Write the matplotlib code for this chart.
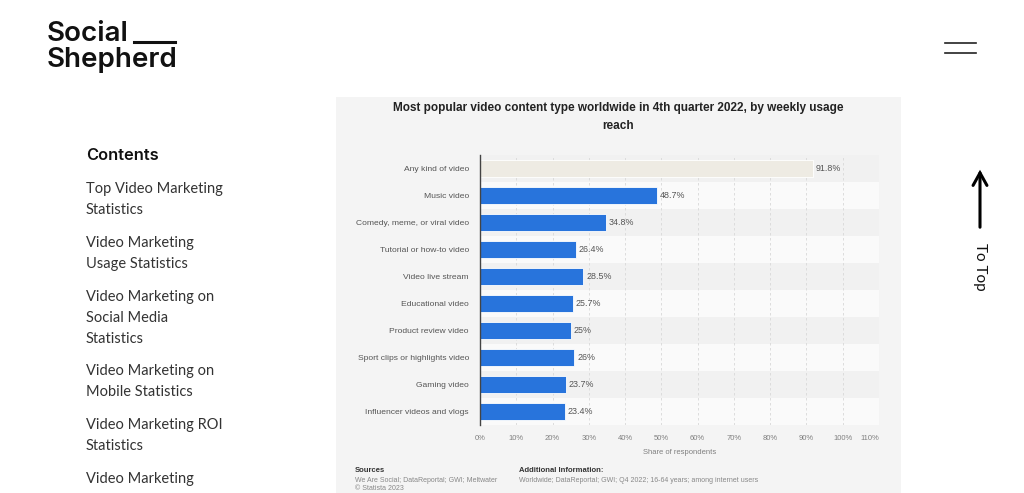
import matplotlib
matplotlib.use('Agg')
import matplotlib.pyplot as plt
from matplotlib.patches import Rectangle, FancyArrowPatch
from matplotlib.lines import Line2D

# data
categories = ['Any kind of video', 'Music video', 'Comedy, meme, or viral video',
              'Tutorial or how-to video', 'Video live stream', 'Educational video',
              'Product review video', 'Sport clips or highlights video',
              'Gaming video', 'Influencer videos and vlogs']
values = [91.8, 48.7, 34.8, 26.4, 28.5, 25.7, 25, 26, 23.7, 23.4]
value_labels = ['91.8%', '48.7%', '34.8%', '26.4%', '28.5%', '25.7%', '25%', '26%', '23.7%', '23.4%']
xticks = [0, 10, 20, 30, 40, 50, 60, 70, 80, 90, 100, 110]
xtick_labels = [f'{t}%' for t in xticks]
contents = ['Top Video Marketing', 'Statistics', 'Video Marketing', 'Usage Statistics',
            'Video Marketing on', 'Social Media', 'Statistics', 'Video Marketing on',
            'Mobile Statistics', 'Video Marketing ROI', 'Statistics', 'Video Marketing']
contents_y = [189, 210, 243, 264, 297, 318, 339, 371, 392, 425, 446, 479]

W, H = 1024, 493
def px(x, y):
    return x / W, 1 - y / H

fig = plt.figure(figsize=(W / 100, H / 100), dpi=100)
fig.patch.set_facecolor('white')

CHART = 'Liberation Sans'
PAGE = 'Lato'
LOGO = 'Inter'

# grey statista panel
fig.patches.append(Rectangle(px(336, 493), 565 / W, 396 / H, transform=fig.transFigure,
                             facecolor='#f4f4f4', edgecolor='none', zorder=-5))

# logo
fig.text(*px(47, 34), 'Social', fontsize=20, fontweight='semibold', family=LOGO,
         color='#111111', va='center', ha='left')
fig.text(*px(47, 60), 'Shepherd', fontsize=20, fontweight='semibold', family=LOGO,
         color='#111111', va='center', ha='left')
fig.lines.append(Line2D([134 / W, 175 / W], [1 - 42 / H, 1 - 42 / H], transform=fig.transFigure,
                        color='#111111', lw=2.2))

# hamburger
for yy in (43, 53):
    fig.lines.append(Line2D([945 / W, 976 / W], [1 - yy / H, 1 - yy / H], transform=fig.transFigure,
                            color='#222222', lw=1.2))

# to top arrow
fig.patches.append(FancyArrowPatch(px(980, 230), px(980, 167), transform=fig.transFigure,
                                   arrowstyle='->,head_length=9,head_width=5',
                                   color='black', lw=2.2, mutation_scale=1,
                                   joinstyle='miter', capstyle='round'))
fig.text(*px(980, 267), 'To Top', rotation=-90, fontsize=11, family=PAGE, color='#111111',
         ha='center', va='center')

# contents sidebar
fig.text(*px(86, 156), 'Contents', fontsize=11.8, fontweight='semibold', family=LOGO,
         color='#111111', va='center', ha='left')
for t, yy in zip(contents, contents_y):
    fig.text(*px(86, yy), t, fontsize=10.5, family=PAGE, color='#333333', va='center', ha='left')

# chart
ax = fig.add_axes([480 / W, 68 / H, 399 / W, 270 / H])
ax.set_facecolor('none')
n = len(categories)
y = list(range(n))
for i in y:
    ax.axhspan(i - 0.5, i + 0.5, color='#f1f1f1' if i % 2 == 0 else '#fafafa', zorder=0, lw=0)
colors = ['#eeebe3'] + ['#2874dc'] * (n - 1)
ax.barh(y, values, height=0.66, color=colors, edgecolor='white', linewidth=0.6, zorder=3)
for yi, v, lab in zip(y, values, value_labels):
    ax.annotate(lab, (v, yi), xytext=(2, 0), textcoords='offset points', va='center', ha='left',
                fontsize=6.4, color='#555555', family=CHART)

ax.set_xlim(0, 110)
ax.set_ylim(n - 0.5, -0.5)
ax.set_yticks(y)
ax.set_yticklabels(categories, fontsize=6.1, color='#555555', family=CHART)
ax.set_xticks(xticks)
ax.set_xticklabels(xtick_labels, fontsize=5.5, color='#808080', family=CHART)
ax.get_xticklabels()[-1].set_horizontalalignment('right')
ax.tick_params(length=0, pad=8)
ax.tick_params(axis='x', pad=7)
ax.xaxis.grid(True, linestyle=(0, (3, 3)), color='#d8d8d8', lw=0.6, zorder=1)
ax.set_axisbelow(True)
for s in ('top', 'right', 'bottom'):
    ax.spines[s].set_visible(False)
ax.spines['left'].set_color('#444444')
ax.spines['left'].set_linewidth(1)
ax.spines['left'].set_zorder(4)
ax.set_xlabel('Share of respondents', fontsize=5.5, color='#808080', family=CHART, labelpad=5)

# title
fig.text(*px(618, 108), 'Most popular video content type worldwide in 4th quarter 2022, by weekly usage',
         fontsize=8.5, fontweight='bold', family=CHART, color='#222222', ha='center', va='center')
fig.text(*px(618, 126), 'reach', fontsize=8.5, fontweight='bold', family=CHART, color='#222222',
         ha='center', va='center')

# footer
fig.text(*px(355, 471), 'Sources', fontsize=5.5, fontweight='bold', family=CHART, color='#333333', va='center')
fig.text(*px(355, 481), 'We Are Social; DataReportal; GWI; Meltwater', fontsize=5, family=CHART,
         color='#888888', va='center')
fig.text(*px(355, 489), '\u00a9 Statista 2023', fontsize=5, family=CHART, color='#888888', va='center')
fig.text(*px(519, 471), 'Additional Information:', fontsize=5.5, fontweight='bold', family=CHART,
         color='#333333', va='center')
fig.text(*px(519, 481), 'Worldwide; DataReportal; GWI; Q4 2022; 16-64 years; among internet users',
         fontsize=5, family=CHART, color='#888888', va='center')

fig.savefig('out.png', dpi=100, facecolor='white')
